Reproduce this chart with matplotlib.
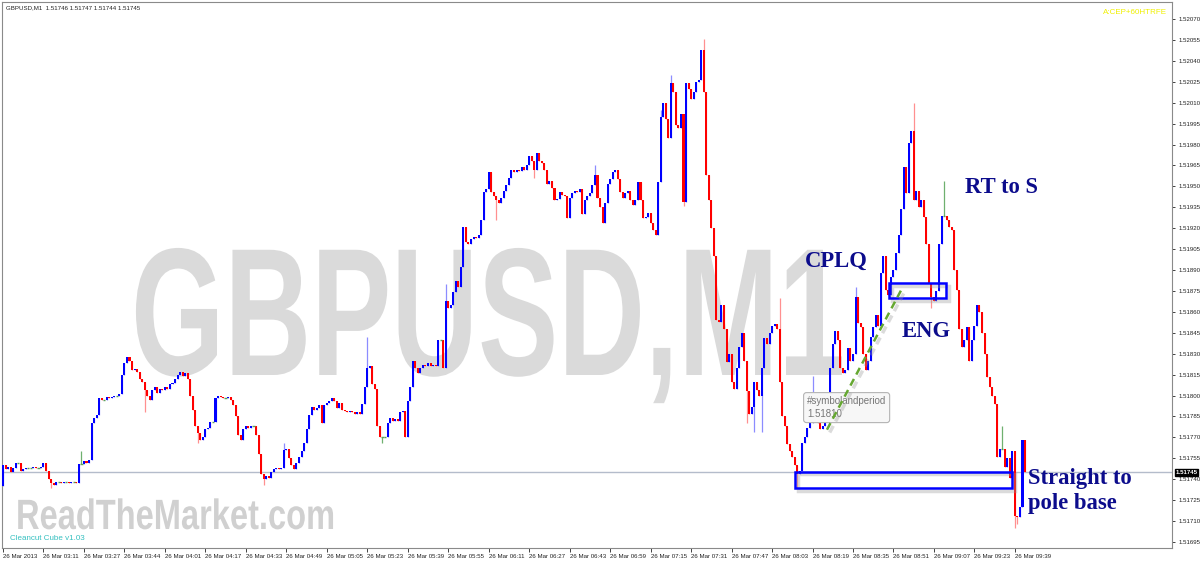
import matplotlib
matplotlib.use('Agg')
import matplotlib.pyplot as plt
import numpy as np
from matplotlib.patches import Rectangle
from matplotlib.transforms import Affine2D
from matplotlib.ticker import MultipleLocator, FixedLocator, FormatStrFormatter
from matplotlib import patheffects as pe

plt.rcParams['font.family'] = ['Liberation Sans', 'DejaVu Sans']

# --- data --------------------------------------------------------------
# prices are stored as points above base_price (1 point = 0.00001)
base_price = 1.51700
first_open = 35
close_pts = [
    50, 47, 49, 45, 48, 52, 52, 46, 47, 48,
    48, 48, 49, 48, 48, 49, 52, 46, 40, 37,
    36, 38, 38, 37, 38, 38, 37, 38, 38, 37,
    51, 51, 53, 52, 54, 80, 84, 86, 98, 97,
    97, 99, 98, 99, 100, 100, 101, 115, 123, 128,
    125, 118, 119, 117, 112, 110, 104, 100, 97, 104,
    106, 102, 105, 104, 106, 105, 108, 109, 112, 115,
    117, 114, 116, 112, 100, 90, 78, 73, 68, 70,
    76, 77, 81, 81, 98, 100, 99, 98, 98, 99,
    97, 93, 85, 72, 68, 76, 78, 77, 78, 78,
    72, 58, 44, 40, 42, 41, 45, 47, 48, 47,
    48, 61, 62, 55, 50, 47, 52, 56, 60, 66,
    76, 86, 92, 90, 91, 93, 80, 93, 95, 96,
    98, 96, 91, 95, 90, 89, 88, 89, 88, 87,
    88, 87, 94, 106, 120, 121, 108, 105, 78, 70,
    70, 70, 80, 84, 82, 83, 82, 88, 89, 70,
    96, 106, 125, 120, 116, 120, 122, 121, 123, 121,
    122, 121, 140, 140, 120, 168, 163, 165, 174, 182,
    178, 192, 221, 210, 209, 212, 214, 213, 215, 226,
    246, 248, 260, 246, 243, 240, 238, 242, 247, 251,
    256, 262, 260, 262, 261, 264, 262, 265, 272, 268,
    262, 274, 268, 267, 262, 252, 254, 249, 240, 241,
    246, 244, 243, 227, 242, 245, 247, 246, 248, 230,
    240, 243, 245, 251, 258, 242, 235, 224, 238, 252,
    255, 260, 262, 255, 246, 242, 245, 247, 240, 237,
    240, 253, 240, 227, 228, 231, 224, 219, 215, 253,
    300, 310, 298, 285, 324, 318, 294, 292, 302, 239,
    324, 320, 313, 318, 325, 326, 348, 318, 258, 240,
    220, 200, 154, 153, 165, 148, 124, 130, 110, 105,
    120, 135, 145, 125, 103, 87, 92, 110, 104, 100,
    120, 141, 137, 145, 150, 151, 148, 110, 85, 78,
    65, 60, 56, 50, 44, 46, 66, 70, 77, 80,
    89, 85, 80, 76, 78, 90, 99, 120, 137, 146,
    140, 120, 116, 118, 134, 125, 130, 171, 152, 149,
    130, 118, 125, 142, 149, 158, 150, 188, 200, 176,
    172, 185, 190, 202, 215, 234, 264, 245, 281, 290,
    240, 247, 235, 240, 228, 209, 181, 171, 168, 175,
    209, 229, 229, 226, 221, 219, 190, 176, 148, 135,
    140, 149, 125, 140, 150, 165, 160, 145, 130, 113,
    106, 100, 94, 56, 62, 62, 49, 55, 41, 60,
    14, 13, 20, 68, 45,
]
# visible wick extremes (bar index -> points)
wick_high = {31: 60, 111: 66, 144: 142, 175: 180, 234: 265, 260: 305, 264: 330,
             277: 356, 307: 170, 320: 114, 337: 178, 360: 310, 372: 254, 395: 78}
wick_low = {19: 34, 56: 88, 77: 66, 103: 36, 150: 66, 195: 226, 210: 256, 269: 236,
            294: 80, 297: 74, 300: 74, 314: 34, 367: 163, 400: 5, 401: 8}

header_vals = ['1.51746', '1.51747', '1.51744', '1.51745']
bid_price = 1.51745
time_labels = ['26 Mar 2013', '26 Mar 03:11', '26 Mar 03:27', '26 Mar 03:44', '26 Mar 04:01',
               '26 Mar 04:17', '26 Mar 04:33', '26 Mar 04:49', '26 Mar 05:05', '26 Mar 05:23',
               '26 Mar 05:39', '26 Mar 05:55', '26 Mar 06:11', '26 Mar 06:27', '26 Mar 06:43',
               '26 Mar 06:59', '26 Mar 07:15', '26 Mar 07:31', '26 Mar 07:47', '26 Mar 08:03',
               '26 Mar 08:19', '26 Mar 08:35', '26 Mar 08:51', '26 Mar 09:07', '26 Mar 09:23',
               '26 Mar 09:39']
bars_per_label = 16

# drawn objects: (first bar, last bar, low price, high price)
zones = [(350.2, 372.7, 1.518701, 1.518808),
         (313.0, 398.8, 1.517339, 1.517454)]
trend_bars = [325.7, 355.3]
trend_prices = [1.517755, 1.518765]
notes = [('CPLQ', 317.0, 1.518923), ('RT to S', 380.2, 1.519453), ('ENG', 355.3, 1.518422),
         ('Straight to', 405.1, 1.517368), ('pole base', 405.1, 1.517189)]


class Stretch(pe.AbstractPathEffect):
    """rescale glyphs about the text origin (MT4 watermark is condensed)"""
    def __init__(self, sx, sy=1.0):
        super().__init__()
        self.sx, self.sy = sx, sy

    def draw_path(self, renderer, gc, tpath, affine, rgbFace=None):
        renderer.draw_path(gc, tpath, Affine2D().scale(self.sx, self.sy) + affine, rgbFace)


closes = base_price + np.array(close_pts) / 1e5
opens = np.r_[base_price + first_open / 1e5, closes[:-1]]
highs = np.maximum(opens, closes)
lows = np.minimum(opens, closes)
for i, v in wick_high.items():
    highs[i] = base_price + v / 1e5
for i, v in wick_low.items():
    lows[i] = base_price + v / 1e5
idx = np.arange(len(closes))

W, H = 1200, 562
fig = plt.figure(figsize=(W / 100, H / 100), dpi=100)
fig.patch.set_facecolor('white')
ax = fig.add_axes([2 / W, (H - 548) / H, 1170 / W, 546 / H])
ax.set_facecolor('white')


def fpx(x, y):
    return x / W, 1 - y / H


# watermarks
ax.text(*fpx(131, 375), 'GBPUSD,M1', transform=fig.transFigure, fontsize=86.5, fontweight='bold',
        color='#dadada', ha='left', va='baseline', zorder=0, path_effects=[Stretch(1.0, 1.515)])
ax.text(*fpx(16, 529), 'ReadTheMarket.com', transform=fig.transFigure, fontsize=16,
        fontweight='bold', color='#d0d0d0', ha='left', va='baseline', zorder=0,
        path_effects=[Stretch(1.468, 1.906)])

# bid line
ax.axhline(bid_price, color='#b4bccb', lw=1.0, zorder=1)

up = closes > opens
dn = closes < opens
dj = closes == opens
ax.vlines(idx[up], lows[up], highs[up], color='#8c8cff', lw=0.9, zorder=2)
ax.vlines(idx[dn], lows[dn], highs[dn], color='#ff9090', lw=0.9, zorder=2)
ax.vlines(idx[dj], lows[dj], highs[dj], color='#6fb06f', lw=0.9, zorder=2)
ax.bar(idx[up], (closes - opens)[up], bottom=opens[up], width=0.8, color='#0000ff', lw=0, zorder=3)
ax.bar(idx[dn], (closes - opens)[dn], bottom=opens[dn], width=0.8, color='#ff0000', lw=0, zorder=3)
ax.hlines(closes[dj], idx[dj] - 0.45, idx[dj] + 0.45, color='#5aa05a', lw=1.0, zorder=3)

# tooltip
ax.text(*fpx(807, 396), '#symbolandperiod\n1.51810', transform=fig.transFigure, fontsize=7,
        color='#777777', ha='left', va='top', linespacing=1.4, zorder=4,
        bbox=dict(boxstyle='round,pad=0.35,rounding_size=0.3', fc='#f7f7f7', ec='#b4b4b4', lw=0.8))

# zones and trend line
shadow = [pe.SimpleLineShadow(offset=(2, -2), shadow_color='#999999', alpha=0.35, linewidth=2.5),
          pe.Normal()]
for x0, x1, p0, p1 in zones:
    ax.add_patch(Rectangle((x0, p0), x1 - x0, p1 - p0, fill=False, ec='#0000ff', lw=1.8, zorder=5,
                           path_effects=shadow))
ax.plot(trend_bars, trend_prices, color='#66a832', lw=1.8, ls=(0, (3, 2)), zorder=5,
        path_effects=shadow)

for txt, bx, py in notes:
    ax.text(bx, py, txt, fontsize=16.3, fontweight='bold', family='Liberation Serif',
            color='#0c0c8c', ha='left', va='baseline', zorder=6, clip_on=False)

# text overlays
ax.text(*fpx(6, 8), 'GBPUSD,M1  ' + ' '.join(header_vals), transform=fig.transFigure,
        fontsize=4.4, color='#222222', ha='left', va='center')
ax.text(*fpx(1167, 12), 'A:CEP+60HTRFE', transform=fig.transFigure, fontsize=5.8,
        color='#f0f000', ha='right', va='center')
ax.text(*fpx(10, 538.5), 'Cleancut Cube v1.03', transform=fig.transFigure, fontsize=5.8,
        color='#35c0c0', ha='left', va='center')

# axes
ax.set_xlim(-0.4, 462.1)
ax.set_ylim(1.516907, 1.520822)
ax.yaxis.tick_right()
ax.yaxis.set_major_locator(MultipleLocator(0.00015))
ax.yaxis.set_major_formatter(FormatStrFormatter('%.5f'))
ax.xaxis.set_major_locator(FixedLocator(np.arange(len(time_labels)) * bars_per_label))
ax.set_xticklabels(time_labels)
for lab in ax.get_xticklabels():
    lab.set_horizontalalignment('left')
ax.tick_params(axis='y', labelsize=4.4, length=2.5, width=0.6, pad=2, colors='#222222')
ax.tick_params(axis='x', labelsize=4.4, length=3, width=0.6, pad=1.5, colors='#222222')
for s in ax.spines.values():
    s.set_color('#8a8a8a')
    s.set_linewidth(0.8)

ax.annotate(f'{bid_price:.5f}', xy=(1, bid_price), xycoords=('axes fraction', 'data'),
            xytext=(2.5, 0), textcoords='offset points', fontsize=4.4, color='white',
            fontweight='bold', ha='left', va='center',
            bbox=dict(boxstyle='square,pad=0.15', fc='black', ec='black'))

fig.savefig('out.png', dpi=100)
